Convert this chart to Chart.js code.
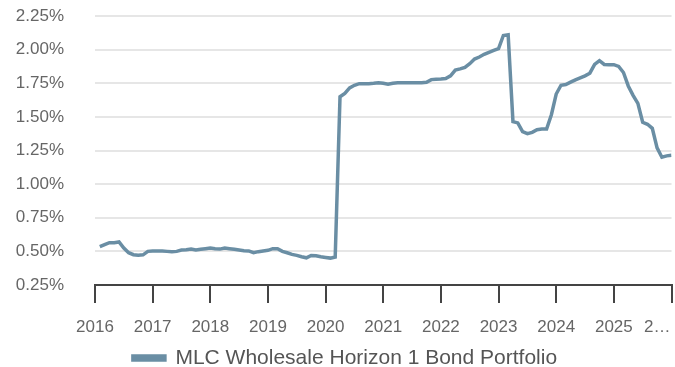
<!DOCTYPE html>
<html>
<head>
<meta charset="utf-8">
<script src="https://cdn.jsdelivr.net/npm/chart.js@4/dist/chart.umd.min.js"></script>
<style>
  html, body { margin: 0; padding: 0; background: #fff; }
  #wrap { width: 675px; height: 367px; }
</style>
</head>
<body>
<div id="wrap"><canvas id="chart" width="675" height="367"></canvas></div>
<script>
// Monthly yield series, in percent
const seriesName = 'MLC Wholesale Horizon 1 Bond Portfolio';

const months = [
  '2016-02','2016-03','2016-04','2016-05','2016-06','2016-07','2016-08','2016-09','2016-10','2016-11','2016-12',
  '2017-01','2017-02','2017-03','2017-04','2017-05','2017-06','2017-07','2017-08','2017-09','2017-10','2017-11','2017-12',
  '2018-01','2018-02','2018-03','2018-04','2018-05','2018-06','2018-07','2018-08','2018-09','2018-10','2018-11','2018-12',
  '2019-01','2019-02','2019-03','2019-04','2019-05','2019-06','2019-07','2019-08','2019-09','2019-10','2019-11','2019-12',
  '2020-01','2020-02','2020-03','2020-04','2020-05','2020-06','2020-07','2020-08','2020-09','2020-10','2020-11','2020-12',
  '2021-01','2021-02','2021-03','2021-04','2021-05','2021-06','2021-07','2021-08','2021-09','2021-10','2021-11','2021-12',
  '2022-01','2022-02','2022-03','2022-04','2022-05','2022-06','2022-07','2022-08','2022-09','2022-10','2022-11','2022-12',
  '2023-01','2023-02','2023-03','2023-04','2023-05','2023-06','2023-07','2023-08','2023-09','2023-10','2023-11','2023-12',
  '2024-01','2024-02','2024-03','2024-04','2024-05','2024-06','2024-07','2024-08','2024-09','2024-10','2024-11','2024-12',
  '2025-01','2025-02','2025-03','2025-04','2025-05','2025-06','2025-07','2025-08','2025-09','2025-10','2025-11','2025-12',
  '2026-01'
];

const values = [
  0.535,0.550,0.565,0.565,0.570,0.525,0.490,0.475,0.472,0.474,0.500,
  0.503,0.503,0.503,0.500,0.497,0.500,0.510,0.512,0.517,0.510,0.515,0.520,
  0.525,0.520,0.517,0.525,0.520,0.515,0.510,0.505,0.503,0.490,0.498,0.503,
  0.508,0.520,0.520,0.500,0.490,0.478,0.470,0.460,0.452,0.470,0.468,0.460,
  0.455,0.450,0.458,1.650,1.675,1.715,1.735,1.747,1.747,1.747,1.750,1.754,
  1.750,1.742,1.750,1.754,1.754,1.754,1.754,1.754,1.754,1.757,1.777,1.780,
  1.782,1.785,1.805,1.848,1.857,1.868,1.895,1.930,1.945,1.965,1.980,1.995,
  2.008,2.105,2.110,1.465,1.455,1.390,1.375,1.385,1.405,1.410,1.410,1.516,
  1.670,1.735,1.740,1.758,1.775,1.790,1.805,1.825,1.890,1.918,1.890,1.888,
  1.888,1.875,1.830,1.730,1.660,1.600,1.460,1.445,1.415,1.270,1.200,1.210,
  1.215
];

// The last year label is cut short; trailing no-break spaces pull it back inside the canvas
const xTickLabels = ['2016','2017','2018','2019','2020','2021','2022','2023','2024','2025',
  '2…\u00a0\u00a0\u00a0\u00a0\u00a0\u00a0'];
const yTickLabels = ['0.25%','0.50%','0.75%','1.00%','1.25%','1.50%','1.75%','2.00%','2.25%'];

const firstYear = 2016;
const lastYear = 2026;

// month string -> fractional year on the linear x scale
function toYear(m) {
  const [y, mo] = m.split('-').map(Number);
  return y + (mo - 1) / 12;
}

const points = months.map((m, i) => ({ x: toYear(m), y: values[i] }));

const lineColor = '#6a8ea4';
const fontFamily = '"Liberation Sans", Arial, sans-serif';
const tickFont = { family: fontFamily, size: 17 };

new Chart(document.getElementById('chart'), {
  type: 'line',
  data: {
    datasets: [{
      label: seriesName,
      data: points,
      borderColor: lineColor,
      backgroundColor: lineColor,
      borderWidth: 3.5,
      pointRadius: 0,
      pointHoverRadius: 0,
      tension: 0,
      fill: false
    }]
  },
  options: {
    responsive: false,
    animation: false,
    devicePixelRatio: 1,
    layout: { padding: { top: 16, right: 0, left: 15, bottom: -11.5 } },
    plugins: {
      tooltip: { enabled: false },
      legend: {
        position: 'bottom',
        labels: {
          boxWidth: 32,
          boxHeight: 4,
          padding: 0,
          color: '#555',
          font: { family: fontFamily, size: 21 }
        }
      }
    },
    scales: {
      x: {
        type: 'linear',
        min: firstYear,
        max: lastYear,
        afterFit(scale) {
          scale.height = 62.5;
          scale.paddingRight = 3.5;
        },
        ticks: {
          stepSize: 1,
          autoSkip: false,
          maxRotation: 0,
          padding: 14.3,
          color: '#666',
          font: tickFont,
          callback: (v) => xTickLabels[Math.round(v - firstYear)]
        },
        grid: {
          drawOnChartArea: false,
          drawTicks: true,
          tickLength: 18,
          color: '#444',
          lineWidth: 2
        },
        border: { display: true, color: '#444', width: 2 }
      },
      y: {
        min: 0.25,
        max: 2.25,
        afterFit(scale) { scale.width = 80; },
        ticks: {
          stepSize: 0.25,
          padding: 0,
          color: '#666',
          font: tickFont,
          callback: (v) => yTickLabels[Math.round((v - 0.25) / 0.25)]
        },
        grid: {
          drawTicks: true,
          tickLength: 31,
          tickColor: 'rgba(0,0,0,0)',
          color: '#e6e6e6',
          lineWidth: 2
        },
        border: { display: false }
      }
    }
  }
});
</script>
</body>
</html>
